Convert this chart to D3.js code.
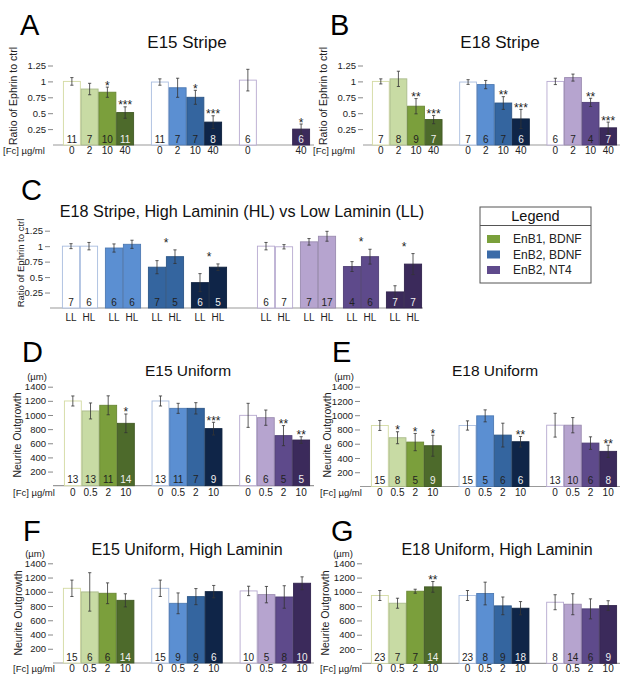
<!DOCTYPE html>
<html><head><meta charset="utf-8">
<script src="https://cdn.jsdelivr.net/npm/d3@7"></script>
<style>body{margin:0;background:#fff}svg{display:block}text{font-family:"Liberation Sans",Arial,sans-serif}</style>
</head><body><svg id="c" width="629" height="685"></svg>
<script>
// ---------- data ----------
const seriesNames = ["EnB1, BDNF", "EnB2, BDNF", "EnB2, NT4"];
const doseStripe = ["0", "2", "10", "40"];
const doseUniform = ["0", "0.5", "2", "10"];
const ratioTicks = [0.25, 0.5, 0.75, 1, 1.25];
const ratioTickLabels = ["0.25", "0.5", "0.75", "1", "1.25"];
const umTicks = [200, 400, 600, 800, 1000, 1200, 1400];

// A: E15 Stripe
const aMean = [[1.00, 0.88, 0.83, 0.51], [0.99, 0.90, 0.75, 0.36], [1.02, null, null, 0.25]];
const aErr  = [[0.06, 0.09, 0.08, 0.09], [0.05, 0.15, 0.11, 0.10], [0.17, null, null, 0.08]];
const aN    = [[11, 7, 10, 11], [11, 7, 7, 8], [6, null, null, 6]];
const aSig  = [["", "", "*", "***"], ["", "", "*", "***"], ["", "", "", "*"]];
// B: E18 Stripe
const bMean = [[1.00, 1.04, 0.61, 0.40], [0.99, 0.95, 0.66, 0.41], [1.00, 1.06, 0.67, 0.27]];
const bErr  = [[0.04, 0.12, 0.12, 0.065], [0.037, 0.065, 0.10, 0.15], [0.05, 0.055, 0.065, 0.09]];
const bN    = [[7, 8, 9, 7], [7, 6, 7, 6], [6, 7, 4, 7]];
const bSig  = [["", "", "**", "***"], ["", "", "**", "***"], ["", "", "**", "***"]];
// C: E18 Stripe, HL vs LL (series EnB2 BDNF, EnB2 NT4)
const cSeries = [1, 2];
const lamin = ["LL", "HL"];
const cMeanLL = [[1.00, 0.97, 0.66, 0.41], [1.00, 1.07, 0.67, 0.26]];
const cMeanHL = [[1.00, 1.03, 0.83, 0.66], [0.99, 1.16, 0.83, 0.71]];
const cErrLL  = [[0.04, 0.066, 0.106, 0.146], [0.06, 0.053, 0.08, 0.10]];
const cErrHL  = [[0.06, 0.066, 0.11, 0.053], [0.035, 0.08, 0.12, 0.17]];
const cNLL    = [[7, 6, 7, 6], [6, 7, 4, 7]];
const cNHL    = [[6, 6, 5, 5], [7, 17, 6, 7]];
const cSig    = [["", "", "*", "*"], ["", "", "*", "*"]];
// D: E15 Uniform
const dMean = [[1198, 1057, 1137, 882], [1198, 1094, 1094, 807], [995, 962, 708, 646]];
const dErr  = [[71, 113, 134, 132], [71, 71, 80, 90], [170, 108, 142, 47]];
const dN    = [[13, 13, 11, 14], [13, 11, 7, 9], [6, 6, 5, 5]];
const dSig  = [["", "", "", "*"], ["", "", "", "***"], ["", "", "**", "**"]];
// E: E18 Uniform
const eMean = [[856, 684, 623, 572], [856, 991, 721, 628], [860, 860, 609, 493]];
const eErr  = [[70, 84, 121, 147], [65, 84, 167, 74], [167, 107, 88, 86]];
const eN    = [[15, 8, 5, 9], [15, 5, 6, 6], [13, 10, 6, 8]];
const eSig  = [["", "*", "*", "*"], ["", "", "", "**"], ["", "", "", "**"]];
// F: E15 Uniform, High Laminin
const fMean = [[1049, 998, 979, 880], [1049, 838, 932, 1002], [1012, 960, 927, 1120]];
const fErr  = [[115, 270, 146, 92], [115, 146, 113, 87], [66, 115, 158, 90]];
const fN    = [[15, 6, 6, 14], [15, 9, 9, 6], [10, 5, 8, 10]];
const fSig  = [["", "", "", ""], ["", "", "", ""], ["", "", "", ""]];
// G: E18 Uniform, High Laminin
const gMean = [[949, 841, 1009, 1070], [949, 977, 804, 771], [855, 827, 762, 808]];
const gErr  = [[70, 70, 28, 75], [70, 159, 124, 93], [105, 147, 140, 68]];
const gN    = [[23, 7, 7, 14], [23, 8, 9, 18], [8, 14, 6, 9]];
const gSig  = [["", "", "", "**"], ["", "", "", ""], ["", "", "", ""]];

// ---------- style ----------
const fills = [
  ["#ffffff", "#c8dba4", "#7b9f3c", "#4d6a2b"],
  ["#ffffff", "#5b8fd2", "#34659f", "#0f2548"],
  ["#ffffff", "#b6a4cf", "#5e4a8b", "#3b2a5b"]
];
const whiteOutline = ["#d3daa2", "#a9bddf", "#b7aad0"];
const legendColors = ["#7aa03b", "#3b6ba8", "#5f4a8c"];
const FONT = '"Liberation Sans",Arial,sans-serif';

const svg = d3.select("#c");

function strokeFor(s, i) {
  return i === 0 ? whiteOutline[s] : d3.color(fills[s][i]).darker(0.45).formatHex();
}
function nColor(i) { return i === 3 ? "#f0f0f0" : "#222"; }

function txt(g, x, y, s, size, anchor, extra) {
  const t = g.append("text").attr("x", x).attr("y", y).text(s)
    .attr("font-size", size).attr("text-anchor", anchor || "start").attr("fill", "#111");
  if (extra) extra(t);
  return t;
}

function yAxis(g, y, ax, ticks, labels) {
  const axis = d3.axisLeft(y).tickValues(ticks).tickSize(5).tickPadding(2)
    .tickFormat((d, i) => labels ? labels[i] : d);
  const ga = g.append("g").attr("transform", `translate(${ax},0)`).call(axis);
  ga.select(".domain").remove();
  ga.selectAll("line").attr("stroke", "#888");
  ga.selectAll("text").attr("font-size", 9.5).attr("fill", "#222").attr("font-family", FONT);
}

function barPanel(cfg) {
  const g = svg.append("g");
  const y = d3.scaleLinear().domain([0, cfg.ymax]).range([cfg.y0, cfg.yTop]);
  const gx = d3.scaleBand().domain([0, 1, 2]).range([cfg.x0, cfg.x1]).paddingInner(0.193);
  const dx = d3.scaleBand().domain(cfg.doses).range([0, gx.bandwidth()]);
  yAxis(g, y, cfg.ax, cfg.ticks, cfg.tickLabels);
  g.append("line").attr("x1", cfg.ax).attr("x2", cfg.xEnd).attr("y1", cfg.y0).attr("y2", cfg.y0)
    .attr("stroke", "#999").attr("stroke-width", 1.2);
  cfg.mean.forEach((row, s) => row.forEach((v, i) => {
    if (v == null) return;
    const bx = gx(s) + dx(cfg.doses[i]), bw = dx.bandwidth(), cx = bx + bw / 2;
    g.append("rect").attr("x", bx + 0.4).attr("y", y(v)).attr("width", bw - 0.8)
      .attr("height", y(0) - y(v)).attr("fill", fills[s][i]).attr("stroke", strokeFor(s, i)).attr("stroke-width", 0.9);
    const e = cfg.err[s][i];
    const et = y(v + e), eb = y(v - e);
    g.append("line").attr("x1", cx).attr("x2", cx).attr("y1", et).attr("y2", eb).attr("stroke", "#333").attr("stroke-width", 0.8);
    [et, eb].forEach(yy => g.append("line").attr("x1", cx - 1.6).attr("x2", cx + 1.6).attr("y1", yy).attr("y2", yy).attr("stroke", "#333").attr("stroke-width", 0.8));
    txt(g, cx, cfg.y0 - 2.5, cfg.n[s][i], 10, "middle", t => t.attr("fill", nColor(i)));
    if (cfg.sig[s][i]) txt(g, cx, et + 2.5, cfg.sig[s][i], 12, "middle", t => t.attr("fill", "#222"));
    txt(g, cx, cfg.labY, cfg.doses[i], 10, "middle", t => t.attr("fill", "#222"));
  }));
  txt(g, cfg.fcX, cfg.labY, "[Fc] µg/ml", 9.5, "start", t => t.attr("fill", "#222"));
  decorate(g, cfg);
}

function decorate(g, cfg) {
  txt(g, cfg.letterX, cfg.letterY, cfg.letter, 29, "start", t => t.attr("fill", "#000"));
  txt(g, cfg.titleX, cfg.titleY, cfg.title, cfg.titleSize || 16, "middle", t => t.attr("fill", "#111"));
  g.append("text").attr("transform", `translate(${cfg.ylX},${cfg.ylY}) rotate(-90)`)
    .attr("text-anchor", "middle").attr("dominant-baseline", "central")
    .attr("font-size", cfg.ylSize || 10.5).attr("fill", "#222").text(cfg.ylabel);
  if (cfg.unitX) txt(g, cfg.unitX, cfg.unitY, "(µm)", 9.5, "middle", t => t.attr("fill", "#222"));
}

// A
barPanel({letter: "A", letterX: 20, letterY: 35, title: "E15 Stripe", titleX: 187, titleY: 48, titleSize: 17,
  mean: aMean, err: aErr, n: aN, sig: aSig, doses: doseStripe, ymax: 1.25, ticks: ratioTicks, tickLabels: ratioTickLabels,
  y0: 145, yTop: 65.5, ax: 53, x0: 63, x1: 310, xEnd: 314, labY: 154, fcX: 3,
  ylabel: "Ratio of Ephrin to ctrl", ylX: 12.5, ylY: 96});
// B
barPanel({letter: "B", letterX: 330, letterY: 35, title: "E18 Stripe", titleX: 500, titleY: 48, titleSize: 17,
  mean: bMean, err: bErr, n: bN, sig: bSig, doses: doseStripe, ymax: 1.25, ticks: ratioTicks, tickLabels: ratioTickLabels,
  y0: 145, yTop: 65.5, ax: 363, x0: 372, x1: 617, xEnd: 620, labY: 154, fcX: 313,
  ylabel: "Ratio of Ephrin to ctrl", ylX: 323, ylY: 96});
// D
barPanel({letter: "D", letterX: 22, letterY: 362, title: "E15 Uniform", titleX: 188, titleY: 376, titleSize: 15.5,
  mean: dMean, err: dErr, n: dN, sig: dSig, doses: doseUniform, ymax: 1400, ticks: umTicks,
  y0: 485.7, yTop: 386.7, ax: 53, x0: 64, x1: 310, xEnd: 314, labY: 496, fcX: 13,
  ylabel: "Neurite Outgrowth", ylX: 17, ylY: 435, unitX: 37, unitY: 380});
// E
barPanel({letter: "E", letterX: 332, letterY: 362, title: "E18 Uniform", titleX: 495, titleY: 376, titleSize: 15.5,
  mean: eMean, err: eErr, n: eN, sig: eSig, doses: doseUniform, ymax: 1400, ticks: umTicks,
  y0: 486.5, yTop: 386.7, ax: 360, x0: 371, x1: 617, xEnd: 620, labY: 496, fcX: 320,
  ylabel: "Neurite Outgrowth", ylX: 327, ylY: 435, unitX: 344, unitY: 380});
// F
barPanel({letter: "F", letterX: 23, letterY: 541, title: "E15 Uniform, High Laminin", titleX: 187, titleY: 555, titleSize: 16,
  mean: fMean, err: fErr, n: fN, sig: fSig, doses: doseUniform, ymax: 1400, ticks: umTicks,
  y0: 663, yTop: 563.3, ax: 53, x0: 63, x1: 311, xEnd: 314, labY: 672, fcX: 13,
  ylabel: "Neurite Outgrowth", ylX: 17.5, ylY: 613, unitX: 35, unitY: 557});
// G
barPanel({letter: "G", letterX: 331, letterY: 541, title: "E18 Uniform, High Laminin", titleX: 497, titleY: 555, titleSize: 16,
  mean: gMean, err: gErr, n: gN, sig: gSig, doses: doseUniform, ymax: 1400, ticks: umTicks,
  y0: 663.3, yTop: 563.3, ax: 362, x0: 371, x1: 617, xEnd: 620, labY: 672, fcX: 320,
  ylabel: "Neurite Outgrowth", ylX: 325, ylY: 613, unitX: 343, unitY: 557});

// C
(function () {
  const cfg = {letter: "C", letterX: 21, letterY: 200, title: "E18 Stripe, High Laminin (HL) vs Low Laminin (LL)",
    titleX: 242, titleY: 217, titleSize: 16.2, ylabel: "Ratio of Ephrin to ctrl", ylX: 20, ylY: 263, ylSize: 9.5};
  const g = svg.append("g");
  const y0 = 308, yTop = 230.7, ax = 50;
  const y = d3.scaleLinear().domain([0, 1.25]).range([y0, yTop]);
  const gx = d3.scaleBand().domain([0, 1]).range([62, 422]).paddingInner(0.154);
  const dx = d3.scaleBand().domain(doseStripe).range([0, gx.bandwidth()]).paddingInner(0.163);
  const lx = d3.scaleBand().domain(lamin).range([0, dx.bandwidth()]);
  yAxis(g, y, ax, ratioTicks, ratioTickLabels);
  g.append("line").attr("x1", ax).attr("x2", 423).attr("y1", y0).attr("y2", y0).attr("stroke", "#999").attr("stroke-width", 1.2);
  cSeries.forEach((s, k) => doseStripe.forEach((d, i) => {
    let maxTop = Infinity;
    lamin.forEach(l => {
      const v = (l === "LL" ? cMeanLL : cMeanHL)[k][i];
      const e = (l === "LL" ? cErrLL : cErrHL)[k][i];
      const n = (l === "LL" ? cNLL : cNHL)[k][i];
      const bx = gx(k) + dx(d) + lx(l), bw = lx.bandwidth(), cx = bx + bw / 2;
      g.append("rect").attr("x", bx + 0.4).attr("y", y(v)).attr("width", bw - 0.8).attr("height", y(0) - y(v))
        .attr("fill", fills[s][i]).attr("stroke", strokeFor(s, i)).attr("stroke-width", 0.9);
      const et = y(v + e), eb = y(v - e);
      maxTop = Math.min(maxTop, et);
      g.append("line").attr("x1", cx).attr("x2", cx).attr("y1", et).attr("y2", eb).attr("stroke", "#333").attr("stroke-width", 0.8);
      [et, eb].forEach(yy => g.append("line").attr("x1", cx - 1.6).attr("x2", cx + 1.6).attr("y1", yy).attr("y2", yy).attr("stroke", "#333").attr("stroke-width", 0.8));
      txt(g, cx, y0 - 2.5, n, 10, "middle", t => t.attr("fill", nColor(i)));
      txt(g, cx, 321, l, 10, "middle", t => t.attr("fill", "#222"));
    });
    if (cSig[k][i]) txt(g, gx(k) + dx(d) + dx.bandwidth() / 2, maxTop - 3, cSig[k][i], 12, "middle", t => t.attr("fill", "#222"));
  }));
  decorate(g, cfg);
})();

// Legend
(function () {
  const g = svg.append("g");
  g.append("rect").attr("x", 480).attr("y", 207).attr("width", 111).attr("height", 76)
    .attr("fill", "#fff").attr("stroke", "#555").attr("stroke-width", 1);
  g.append("line").attr("x1", 480).attr("x2", 591).attr("y1", 225.5).attr("y2", 225.5).attr("stroke", "#555");
  txt(g, 535.5, 221, "Legend", 14.5, "middle", t => t.attr("fill", "#111"));
  const ly = d3.scalePoint().domain(seriesNames).range([239, 270]);
  seriesNames.forEach((nm, i) => {
    g.append("rect").attr("x", 487).attr("y", ly(nm) - 4).attr("width", 13).attr("height", 8).attr("fill", legendColors[i]);
    txt(g, 513, ly(nm) + 4.3, nm, 12, "start", t => t.attr("fill", "#222"));
  });
})();
</script></body></html>
